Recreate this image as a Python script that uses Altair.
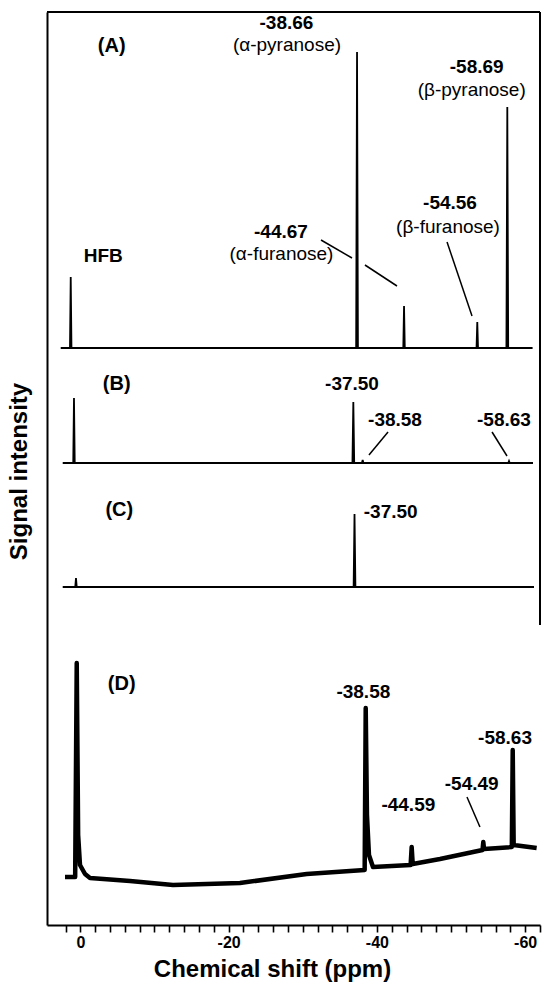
import altair as alt
import pandas as pd

FONT = "Liberation Sans"

# ---------------- spectra (x = chemical shift in ppm, y = signal, arbitrary units) -------------
offsets = {"A": 577, "B": 462, "C": 338, "D": 0}

a_ppm = [2.65, 1.40, 1.30, 1.20, -37.20, -37.32, -37.44, -43.56, -43.66, -43.76,
         -53.44, -53.54, -53.64, -57.47, -57.59, -57.71, -61.00]
a_sig = [0, 0, 71, 0, 0, 296, 0, 0, 42, 0, 0, 26, 0, 0, 241, 0, 0]

b_ppm = [2.38, 0.96, 0.86, 0.76, -36.70, -36.82, -36.94, -37.98, -38.08, -38.18,
         -57.72, -57.82, -57.92, -61.06]
b_sig = [0, 0, 65, 0, 0, 61, 0, 0, 3, 0, 0, 2, 0, 0]

c_ppm = [2.38, 0.69, 0.59, 0.49, -36.86, -36.98, -37.10, -61.19]
c_sig = [0, 0, 9, 0, 0, 73, 0, 0]

d_ppm = [2.07, 0.70, 0.49, 0.30, 0.05, -0.63, -1.30, -6.70, -12.50, -21.53, -30.53,
         -36.37, -38.35, -38.49, -38.66, -38.93, -39.47, -44.55, -44.69, -44.83,
         -48.51, -54.25, -54.35, -54.45, -58.20, -58.32, -58.45, -61.55]
d_sig = [48, 48, 262, 90, 60, 51, 47, 44, 40, 42, 51,
         54, 55, 217, 110, 70, 58, 60, 78, 61,
         66, 75, 83, 76, 78, 175, 80, 77]

spectra = {"A": (a_ppm, a_sig), "B": (b_ppm, b_sig), "C": (c_ppm, c_sig)}

rows = []
for name, (px, sy) in spectra.items():
    for i, (p, s) in enumerate(zip(px, sy)):
        rows.append({"panel": name, "ppm": p, "signal": offsets[name] + s, "order": i})
spec_df = pd.DataFrame(rows)
d_df = pd.DataFrame({"ppm": d_ppm, "signal": [offsets["D"] + s for s in d_sig],
                     "order": list(range(len(d_ppm)))})

# ---------------- annotations ----------------
num_text = ["-38.66", "-58.69", "-54.56", "-44.67",
            "-37.50", "-38.58", "-58.63",
            "-37.50",
            "-38.58", "-58.63", "-54.49", "-44.59"]
num_ppm = [-27.8, -53.46, -49.86, -27.06,
           -36.64, -42.44, -57.14,
           -41.86,
           -38.17, -57.28, -52.79, -44.24]
num_y = [902, 858, 722, 693,
         541, 505, 505,
         413,
         233, 187, 141, 120]

name_text = ["(α-pyranose)", "(β-pyranose)", "(β-furanose)", "(α-furanose)"]
name_ppm = [-27.87, -52.79, -49.59, -27.13]
name_y = [880, 835, 698, 671]

panel_text = ["(A)", "(B)", "(C)", "(D)"]
panel_ppm = [-4.23, -4.90, -5.25, -5.58]
panel_y = [879, 541, 415, 241]

hfb_text = ["HFB"]
hfb_ppm = [-3.09]
hfb_y = [669]

lead_x1 = [-32.46, -38.39, -49.46, -41.50, -55.53, -52.15]
lead_y1 = [685, 660, 683, 493, 493, 128]
lead_x2 = [-36.64, -42.71, -52.83, -38.93, -57.55, -53.90]
lead_y2 = [667, 639, 609, 470, 469, 98]

x_ticks = list(range(2, -63, -2))

X_DOM = [4.5, -62]
Y_DOM = [0, 913]

xscale = alt.Scale(domain=X_DOM, nice=False, zero=False)
yscale = alt.Scale(domain=Y_DOM, nice=False, zero=False)

x_axis = alt.Axis(
    values=x_ticks,
    labelExpr="datum.value % 20 == 0 ? (datum.value == 0 ? '0' : '-' + abs(datum.value)) : ''",
    grid=False, domainColor="black", domainWidth=2, tickColor="black", tickWidth=1.6,
    tickSize=7, labelFont=FONT, labelFontSize=16, labelFontWeight="bold", labelColor="black",
    labelPadding=2, labelFlush=False, labelOverlap=False, labelBound=False,
    title="Chemical shift (ppm)", titleFont=FONT, titleFontSize=24, titleFontWeight="bold",
    titleColor="black", titleX=225, titleY=44, titleBaseline="middle", titleAlign="center",
)
y_axis = alt.Axis(
    ticks=False, labels=False, grid=False, domainColor="black", domainWidth=2,
    title="Signal intensity", titleFont=FONT, titleFontSize=24, titleFontWeight="bold",
    titleColor="black", titleX=-28, titleY=459, titleBaseline="middle", titleAlign="center",
    titleAngle=270,
)

X = alt.X("ppm:Q", scale=xscale, axis=x_axis)
Y = alt.Y("signal:Q", scale=yscale, axis=y_axis)

lines_abc = alt.Chart(spec_df).mark_line(color="black", strokeWidth=1.8).encode(
    x=X, y=Y, detail="panel:N", order="order:Q"
)
line_d = alt.Chart(d_df).mark_line(color="black", strokeWidth=4.5, strokeJoin="round").encode(
    x=X, y=Y, order="order:Q"
)

def text_layer(texts, xs, ys, size, weight):
    df = pd.DataFrame({"t": texts, "ppm": xs, "signal": ys})
    return alt.Chart(df).mark_text(
        font=FONT, fontSize=size, fontWeight=weight, color="black",
        align="center", baseline="middle"
    ).encode(x=X, y=Y, text="t:N")

nums = text_layer(num_text, num_ppm, num_y, 19, "bold")
names = text_layer(name_text, name_ppm, name_y, 19, "normal")
panels = text_layer(panel_text, panel_ppm, panel_y, 20, "bold")
hfb = text_layer(hfb_text, hfb_ppm, hfb_y, 19, "bold")

lead_df = pd.DataFrame({"ppm": lead_x1, "signal": lead_y1, "ppm2": lead_x2, "signal2": lead_y2})
leaders = alt.Chart(lead_df).mark_rule(color="black", strokeWidth=1.5).encode(
    x=X, x2="ppm2:Q", y=Y, y2="signal2:Q"
)

# frame: top edge and partial right edge
frame_df = pd.DataFrame({"ppm": [X_DOM[0], X_DOM[1]], "ppm2": [X_DOM[1], X_DOM[1]],
                         "signal": [Y_DOM[1], Y_DOM[1]], "signal2": [Y_DOM[1], 300]})
frame = alt.Chart(frame_df).mark_rule(color="black", strokeWidth=2).encode(
    x=X, x2="ppm2:Q", y=Y, y2="signal2:Q"
)

chart = alt.layer(
    lines_abc, line_d, leaders, frame, nums, names, panels, hfb
).properties(
    width=493, height=913,
    autosize=alt.AutoSizeParams(type="none"),
    padding={"left": 47, "top": 12, "right": 5, "bottom": 68},
    background="white",
).configure_view(stroke=None)

chart.save("out.html", embed_options={"renderer": "svg", "actions": False})
